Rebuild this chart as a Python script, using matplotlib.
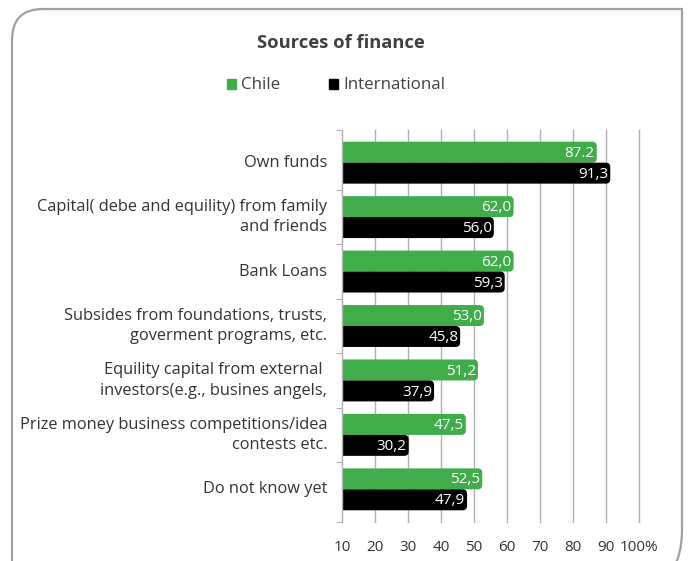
import matplotlib
matplotlib.use("Agg")
import matplotlib.pyplot as plt
from matplotlib.patches import FancyBboxPatch, PathPatch
from matplotlib.path import Path

plt.rcParams['font.family'] = ['Open Sans', 'DejaVu Sans']

categories = [
    "Own funds",
    "Capital( debe and equility) from family\nand friends",
    "Bank Loans",
    "Subsides from foundations, trusts,\ngoverment programs, etc.",
    "Equility capital from external \ninvestors(e.g., busines angels,",
    "Prize money business competitions/idea\ncontests etc.",
    "Do not know yet",
]
chile = [87.2, 62.0, 62.0, 53.0, 51.2, 47.5, 52.5]
international = [91.3, 56.0, 59.3, 45.8, 37.9, 30.2, 47.9]
chile_labels = ["87.2", "62,0", "62,0", "53,0", "51,2", "47,5", "52,5"]
intl_labels = ["91,3", "56,0", "59,3", "45,8", "37,9", "30,2", "47,9"]
xticks = [10, 20, 30, 40, 50, 60, 70, 80, 90, 100]
xticklabels = ["10", "20", "30", "40", "50", "60", "70", "80", "90", "100%"]

GREEN = "#40AD4A"
BLACK = "#000000"
GRID = "#b0b0b0"
TXT = "#333333"

fig = plt.figure(figsize=(6.88, 5.61), dpi=100)
ax = fig.add_axes([342/688, 1-522/561, (639-342)/688, (522-130)/561])

n = len(categories)
ypos = list(range(n))
h = 0.385
ax.set_xlim(10, 100)
ax.set_ylim(6.6, -0.6)

fig.canvas.draw()
bbox = ax.get_window_extent()
px_per_x = bbox.width / 90.0
px_per_y = bbox.height / 7.2
r_px = 4.5
rx = r_px / px_per_x
ry = r_px / px_per_y

def rounded_bars(vals, offset, color):
    bars = ax.barh([y + offset for y in ypos], vals, height=h, color=color, zorder=3)
    for b in bars:
        x0, y0 = b.get_x(), b.get_y()
        w, hh = b.get_width(), b.get_height()
        b.set_visible(False)
        p = FancyBboxPatch((x0, y0), w, hh,
                           boxstyle=f"round,pad=0,rounding_size={rx}",
                           mutation_aspect=ry / rx,
                           facecolor=color, edgecolor="none", zorder=3)
        ax.add_patch(p)
    return bars

rounded_bars(chile, -h/2, GREEN)
rounded_bars(international, h/2, BLACK)

for i in range(n):
    ax.text(chile[i] - 0.6, i - h/2 + 0.02, chile_labels[i], color="white",
            ha="right", va="center", fontsize=11, zorder=4)
    ax.text(international[i] - 0.6, i + h/2 + 0.02, intl_labels[i], color="white",
            ha="right", va="center", fontsize=11, zorder=4)

for xv in xticks[1:]:
    ax.axvline(xv, color=GRID, lw=1.0, zorder=1, clip_on=False)

for s in ["top", "right", "bottom"]:
    ax.spines[s].set_visible(False)
ax.spines["left"].set_color(GRID)
ax.spines["left"].set_linewidth(1.0)
ax.spines["left"].set_zorder(5)

ax.set_xticks(xticks)
ax.set_xticklabels(xticklabels, fontsize=11, color=TXT)
ax.tick_params(axis="x", length=0, pad=13)

ax.set_yticks([-0.6, 0.5, 1.5, 2.5, 3.5, 4.5, 5.5, 6.6])
ax.set_yticklabels([])
ax.tick_params(axis="y", which="major", length=4, color=GRID, direction="out")
for i, c in enumerate(categories):
    ax.text(-0.05, i, c, transform=ax.get_yaxis_transform(), ha="right",
            va="center", fontsize=11.8, color=TXT, linespacing=1.38)

fig.text(341/688, 1-43/561, "Sources of finance", ha="center", va="center",
         fontsize=13.2, fontweight="bold", color="#404040")
fig.patches.append(plt.Rectangle((227/688, 1-89/561), 9/688, 10/561,
                                 transform=fig.transFigure, color=GREEN, figure=fig))
fig.text(241/688, 1-85/561, "Chile", ha="left", va="center", fontsize=12.2, color="#404040")
fig.patches.append(plt.Rectangle((329/688, 1-89/561), 9/688, 10/561,
                                 transform=fig.transFigure, color=BLACK, figure=fig))
fig.text(343/688, 1-85/561, "International", ha="left", va="center", fontsize=12.2, color="#404040")

W, H = 688, 561
def P(x, y):
    return (x / W, 1 - y / H)
verts = [P(12, 600), P(12, 40), P(12, 9), P(43, 9), P(682, 9), P(682, 530),
         P(682, 556), P(672, 570)]
codes = [Path.MOVETO, Path.LINETO, Path.CURVE3, Path.CURVE3, Path.LINETO,
         Path.LINETO, Path.CURVE3, Path.CURVE3]
frame = PathPatch(Path(verts, codes), transform=fig.transFigure, fill=False,
                  edgecolor="#a0a0a0", lw=1.6)
fig.patches.append(frame)

fig.savefig("out.png", dpi=100)
